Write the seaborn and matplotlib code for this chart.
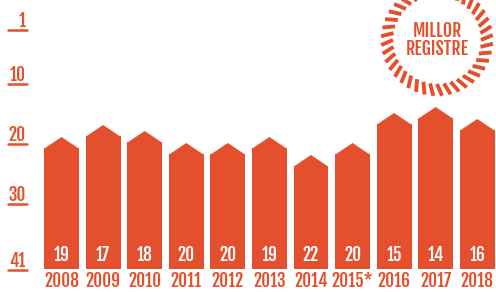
import numpy as np
import matplotlib
matplotlib.use("Agg")
import matplotlib.pyplot as plt
import matplotlib.transforms as mtransforms
from matplotlib.patches import Polygon
import seaborn as sns
import pandas as pd

years = ["2008", "2009", "2010", "2011", "2012", "2013", "2014", "2015*", "2016", "2017", "2018"]
ranks = [19, 17, 18, 20, 20, 19, 22, 20, 15, 14, 16]
tick_ranks = [1, 10, 20, 30, 41]
badge_lines = ["MILLOR", "REGISTRE"]

RED = "#E4502D"
BOTTOM = 41
CAP = 1.9
FS = 12.5

sns.set_theme(style="white")
plt.rcParams['font.family'] = ['Fjalla One', 'Oswald', 'DejaVu Sans']

W, H = 496, 292
fig = plt.figure(figsize=(W / 100, H / 100), dpi=100)
ax = fig.add_axes([36.6 / W, 23 / H, (497.25 - 36.6) / W, 269 / H])

df = pd.DataFrame({"year": years, "h": [BOTTOM - r - CAP for r in ranks]})
sns.barplot(data=df, x="year", y="h", color=RED, saturation=1, width=0.84, ax=ax, linewidth=0)

for p, r in zip(ax.patches, ranks):
    x0, w, h = p.get_x(), p.get_width(), p.get_height()
    tri = Polygon([(x0, h - 0.05), (x0 + w / 2, h + CAP), (x0 + w, h - 0.05)],
                  closed=True, facecolor=RED, edgecolor="none", linewidth=0)
    ax.add_patch(tri)
    ax.text(x0 + w / 2, 2.3, str(r), color="white", ha="center", va="center",
            fontsize=FS)

ax.set_xlim(-0.6, 10.48)
ax.set_ylim(0, 269 / 6)
for s in ax.spines.values():
    s.set_visible(False)
ax.set_xlabel("")
ax.set_ylabel("")

ax.set_xticks(range(len(years)))
ax.set_xticklabels(years, color=RED, fontsize=FS)
ax.tick_params(axis="x", length=0, pad=1.5)

ypos = [BOTTOM - t for t in tick_ranks]
ax.set_yticks(ypos)
ax.set_yticklabels([str(t) for t in tick_ranks], color=RED, fontsize=FS)
ax.tick_params(axis="y", length=0, pad=8)
for lab in ax.get_yticklabels():
    lab.set_transform(lab.get_transform() + mtransforms.ScaledTranslation(0, 10 / 100, fig.dpi_scale_trans))

trans = mtransforms.blended_transform_factory(fig.transFigure, ax.transData)
for y in ypos:
    ax.plot([8 / W, 26.5 / W], [y - 0.1, y - 0.1], color=RED, lw=1.8, transform=trans, clip_on=False)

# badge
cx, cy, R = 437, 40, 60
bax = fig.add_axes([(cx - R) / W, 1 - (cy + R) / H, 2 * R / W, 2 * R / H])
bax.set_xlim(-R, R)
bax.set_ylim(-R, R)
bax.set_aspect("equal")
bax.axis("off")
n = 40
for k in range(n):
    th = 2 * np.pi * k / n
    r_in, r_out = 44, 56
    d = 0.09
    bax.plot([r_in * np.cos(th), r_out * np.cos(th + d)],
             [r_in * np.sin(th), r_out * np.sin(th + d)],
             color=RED, lw=2.8, solid_capstyle="butt")
bax.text(0, 9, badge_lines[0], ha="center", va="center", color=RED, fontsize=13)
bax.text(0, -9, badge_lines[1], ha="center", va="center", color=RED, fontsize=13)

fig.savefig("out.png", dpi=100, facecolor="white")
